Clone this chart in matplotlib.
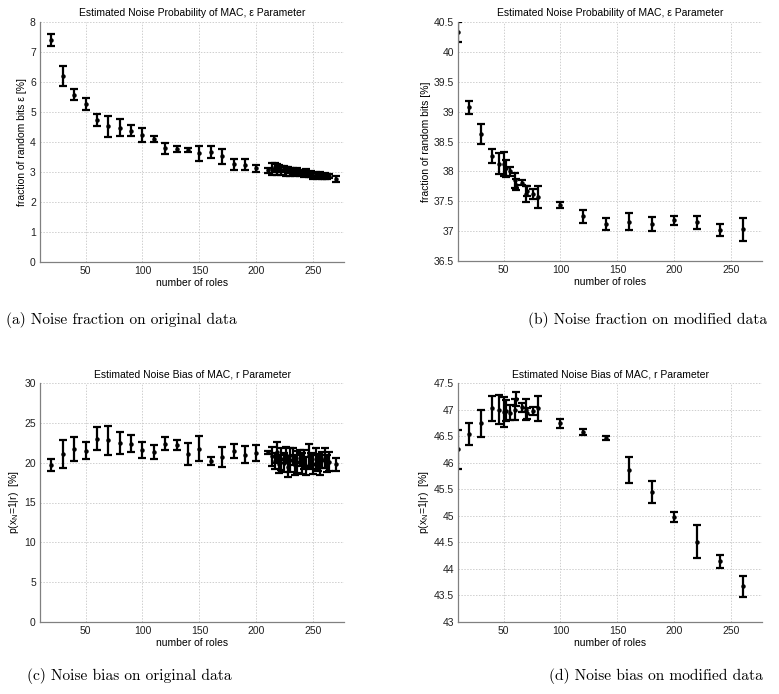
import matplotlib
matplotlib.use("Agg")
import matplotlib.pyplot as plt
import numpy as np

# ---------------- data ----------------
# panels (a) and (c): original data
roles_orig = [20, 30, 40, 50, 60, 70, 80, 90, 100, 110, 120, 130, 140, 150, 160, 170, 180, 190, 200, 210,
              214, 216, 218, 220, 222, 224, 226, 228, 230, 232, 234, 236, 238, 240, 242, 244, 246, 248,
              250, 252, 254, 256, 258, 260, 262, 264, 270]
eps_orig = [7.39, 6.19, 5.58, 5.27, 4.72, 4.52, 4.47, 4.38, 4.24, 4.10, 3.79, 3.78, 3.74, 3.62, 3.66, 3.52,
            3.26, 3.24, 3.12, 3.06,
            3.10, 3.15, 3.08, 3.12, 3.05, 3.10, 3.02, 3.07, 3.00, 3.04, 2.98, 3.01, 2.96, 2.99, 2.93,
            2.97, 2.90, 2.94, 2.88, 2.92, 2.87, 2.90, 2.85, 2.88, 2.84, 2.86, 2.78]
eps_orig_err = [0.20, 0.34, 0.19, 0.19, 0.20, 0.34, 0.28, 0.19, 0.24, 0.10, 0.18, 0.10, 0.06, 0.25, 0.20,
                0.24, 0.18, 0.18, 0.11, 0.08,
                0.20, 0.15, 0.18, 0.12, 0.16, 0.10, 0.14, 0.10, 0.12, 0.10, 0.10, 0.12, 0.10, 0.08, 0.10,
                0.12, 0.08, 0.10, 0.10, 0.08, 0.10, 0.09, 0.08, 0.10, 0.08, 0.07, 0.10]
bias_orig = [19.7, 21.1, 21.75, 21.5, 23.0, 22.8, 22.5, 22.4, 21.6, 21.3, 22.4, 22.2, 21.1, 21.75, 20.2,
             20.7, 21.5, 21.0, 21.2, 21.3,
             20.8, 20.2, 21.3, 19.8, 20.5, 20.0, 21.0, 19.5, 20.3, 20.8, 19.7, 20.1, 20.6, 19.9, 20.4,
             19.6, 20.9, 20.2, 19.8, 20.5, 20.0, 19.7, 20.3, 20.6, 19.9, 20.1, 19.8]
bias_orig_err = [0.8, 1.8, 1.5, 1.1, 1.45, 1.85, 1.4, 1.1, 1.05, 0.9, 0.85, 0.6, 1.4, 1.55, 0.55, 1.3,
                 0.9, 1.1, 1.05, 0.15,
                 1.2, 1.0, 1.3, 1.1, 1.4, 1.2, 1.0, 1.3, 1.5, 1.1, 1.2, 1.4, 1.0, 1.3, 1.2, 1.1, 1.4,
                 1.0, 1.2, 1.3, 1.1, 1.2, 1.0, 1.3, 1.1, 1.2, 0.8]

# panels (b) and (d): modified data
roles_mod = [10, 20, 30, 40, 46, 50, 52, 56, 60, 61, 66, 70, 71, 76, 80,
             100, 120, 140, 160, 180, 200, 220, 240, 260]
eps_mod = [40.33, 39.07, 38.62, 38.26, 38.13, 38.12, 38.05, 38.00, 37.85, 37.78, 37.81, 37.62, 37.67,
           37.62, 37.57, 37.43, 37.25, 37.12, 37.16, 37.12, 37.18, 37.15, 37.02, 37.03]
eps_mod_err = [0.17, 0.11, 0.165, 0.12, 0.18, 0.20, 0.14, 0.07, 0.13, 0.10, 0.04, 0.14, 0.08,
               0.08, 0.19, 0.05, 0.11, 0.10, 0.14, 0.11, 0.08, 0.11, 0.10, 0.19]
bias_mod = [46.25, 46.54, 46.74, 47.02, 47.00, 46.95, 46.98, 46.94, 47.00, 47.20, 47.04, 47.00, 46.93,
            46.97, 47.02, 46.74, 46.58, 46.46, 45.86, 45.45, 44.98, 44.51, 44.14, 43.67]
bias_mod_err = [0.37, 0.20, 0.26, 0.24, 0.27, 0.28, 0.20, 0.14, 0.19, 0.13, 0.08, 0.20, 0.10,
                0.07, 0.24, 0.09, 0.06, 0.04, 0.25, 0.21, 0.10, 0.31, 0.125, 0.19]

title_eps = "Estimated Noise Probability of MAC, \u03b5 Parameter"
title_bias = "Estimated Noise Bias of MAC, r Parameter"
xlabel = "number of roles"
ylabel_a = "fraction of random bits \u03b5 [%]"
ylabel_b = "fraction of random bits [%]"
ylabel_cd = r"p(x$_\mathregular{N}$=1|r)  [%]"
captions = ["(a) Noise fraction on original data", "(b) Noise fraction on modified data",
            "(c) Noise bias on original data", "(d) Noise bias on modified data"]

xticks = [50, 100, 150, 200, 250]
yticks_a = [0, 1, 2, 3, 4, 5, 6, 7, 8]
yticks_b = [36.5, 37, 37.5, 38, 38.5, 39, 39.5, 40, 40.5]
yticks_c = [0, 5, 10, 15, 20, 25, 30]
yticks_d = [43, 43.5, 44, 44.5, 45, 45.5, 46, 46.5, 47, 47.5]

# ---------------- figure ----------------
W, H = 779, 694
plt.rcParams['font.family'] = ['Liberation Sans', 'DejaVu Sans']
plt.rcParams['mathtext.fontset'] = 'custom'
plt.rcParams['mathtext.rm'] = 'Liberation Sans'
fig = plt.figure(figsize=(W / 100, H / 100), dpi=100)

def add_ax(left, top, right, bottom):
    return fig.add_axes([left / W, 1 - bottom / H, (right - left) / W, (bottom - top) / H])

def fmt(v):
    return ('%g' % v)

def style(ax, yticks, ylim, title, ylabel):
    ax.set_xlim(10, 277)
    ax.set_ylim(*ylim)
    ax.set_xticks(xticks)
    ax.set_yticks(yticks)
    ax.set_yticklabels([fmt(v) for v in yticks])
    ax.grid(True, color='#cfcfcf', linestyle=(0, (1.5, 1.5)), linewidth=0.7)
    ax.set_axisbelow(True)
    for s in ['top', 'right']:
        ax.spines[s].set_visible(False)
    for s in ['left', 'bottom']:
        ax.spines[s].set_color('#808080')
        ax.spines[s].set_linewidth(0.9)
    ax.tick_params(length=0, labelsize=7.5, pad=3, colors='#202020')
    ax.set_title(title, fontsize=7.5, pad=4)
    ax.set_xlabel(xlabel, fontsize=7.5, labelpad=1)
    ax.set_ylabel(ylabel, fontsize=7.5, labelpad=2)

def draw(ax, x, y, e):
    ax.errorbar(x, y, yerr=e, fmt='o', color='black', ecolor='black', markersize=2.2,
                elinewidth=1.6, capsize=2.6, capthick=1.6, clip_on=True)

ax_a = add_ax(40, 22, 344, 262)
draw(ax_a, roles_orig, eps_orig, eps_orig_err)
style(ax_a, yticks_a, (0, 8), title_eps, ylabel_a)

ax_b = add_ax(458, 22, 762, 261)
draw(ax_b, roles_mod, eps_mod, eps_mod_err)
style(ax_b, yticks_b, (36.5, 40.5), title_eps, ylabel_b)

ax_c = add_ax(40, 383, 344, 622)
draw(ax_c, roles_orig, bias_orig, bias_orig_err)
style(ax_c, yticks_c, (0, 30), title_bias, ylabel_cd)

ax_d = add_ax(458, 383, 762, 622)
draw(ax_d, roles_mod, bias_mod, bias_mod_err)
style(ax_d, yticks_d, (43, 47.5), title_bias, ylabel_cd)

cap_pos = [(121, 320), (648, 320), (129, 676), (656, 676)]
for (cx, cy), txt in zip(cap_pos, captions):
    fig.text(cx / W, 1 - cy / H, txt, ha='center', va='center', fontsize=11.1, family='cmr10')

fig.savefig("out.png", dpi=100)
